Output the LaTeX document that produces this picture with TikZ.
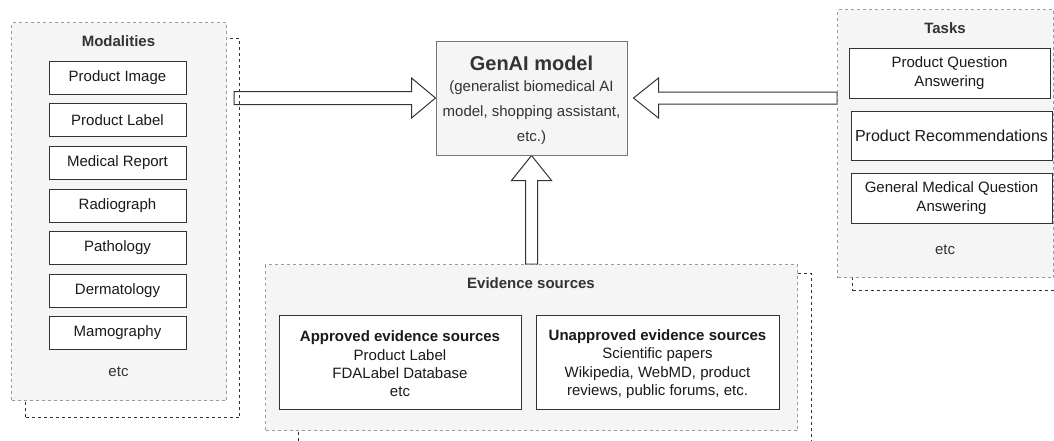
\documentclass[tikz,border=0pt]{standalone}
\usepackage{fontspec}
\setmainfont{Liberation Sans}
\usetikzlibrary{calc}
\definecolor{cfill}{HTML}{F5F5F5}
\definecolor{cdash}{HTML}{9A9A9A}
\definecolor{cshadow}{HTML}{333333}
\definecolor{cbox}{HTML}{333333}
\definecolor{ctext}{HTML}{333333}
\definecolor{citem}{HTML}{1A1A1A}
\definecolor{cgen}{HTML}{777777}
\pgfdeclarelayer{back}
\pgfsetlayers{back,main}
\begin{document}
\begin{tikzpicture}[x=1pt,y=1pt,
 container/.style={draw=cdash, fill=cfill, dash pattern=on 3pt off 3pt, line width=1pt, anchor=north west, inner sep=0pt},
 shadowbox/.style={draw=cshadow, dash pattern=on 3pt off 3pt, line width=1pt, anchor=north west, inner sep=0pt},
 item/.style={draw=cbox, fill=white, line width=1pt, inner sep=0pt, font=\fontsize{15}{18.3}\selectfont, text=citem, align=center},
 ctitle/.style={font=\fontsize{15}{18}\selectfont\bfseries, text=ctext, inner sep=0pt},
 plain/.style={font=\fontsize{15}{18}\selectfont, text=ctext, inner sep=0pt},
 barrow/.style={draw=cbox, fill=white, line width=1pt, line join=miter}
]
\useasboundingbox (0,0) rectangle (1054,-440);
\clip (0,0) rectangle (1054,-440);

% shadows
\node[shadowbox, minimum width=214pt, minimum height=379pt] (modsh) at (25,-38) {};
\node[shadowbox, minimum width=216pt, minimum height=268pt] (tasksh) at (852,-22) {};
\node[shadowbox, minimum width=513pt, minimum height=190pt] (evsh) at (298,-273) {};

% containers
\node[container, minimum width=215pt, minimum height=378pt] (mod) at (11,-22) {};
\node[container, minimum width=216pt, minimum height=268pt] (tasks) at (837,-9) {};
\node[container, minimum width=532pt, minimum height=166pt] (ev) at (265,-264) {};

% Modalities
\node[ctitle] (modt) at (118.5,-41) {Modalities};
\node[item, minimum width=137pt, minimum height=33pt] (m1) at (117.5,-77.5) {Product Image};
\node[item, minimum width=137pt, minimum height=33pt] (m2) at (117.5,-120) {Product Label};
\node[item, minimum width=137pt, minimum height=33pt] (m3) at (117.5,-162.5) {Medical Report};
\node[item, minimum width=137pt, minimum height=33pt] (m4) at (117.5,-205.5) {Radiograph};
\node[item, minimum width=137pt, minimum height=33pt] (m5) at (117.5,-247.5) {Pathology};
\node[item, minimum width=137pt, minimum height=33pt] (m6) at (117.5,-290.5) {Dermatology};
\node[item, minimum width=137pt, minimum height=33pt] (m7) at (117.5,-332.5) {Mamography};
\node[plain] (metc) at (118.5,-372) {etc};

% Tasks
\node[ctitle] (taskt) at (945,-28) {Tasks};
\node[item, minimum width=201pt, minimum height=50pt] (t1) at (949.5,-73) {Product Question\\Answering};
\node[item, minimum width=201pt, minimum height=49pt, font=\fontsize{16}{18.3}\selectfont] (t2) at (951.5,-135.5) {Product Recommendations};
\node[item, minimum width=201pt, minimum height=50pt] (t3) at (951.5,-198) {General Medical Question\\Answering};
\node[plain] (tetc) at (945,-250) {etc};

% GenAI
\node[draw=cgen, fill=cfill, line width=1pt, minimum width=191pt, minimum height=114pt, inner sep=0pt] (gen) at (531.5,-98) {};
\node[font=\fontsize{20}{24}\selectfont\bfseries, text=ctext, inner sep=0pt] (gent) at (531.5,-63) {GenAI model};
\node[font=\fontsize{15}{25}\selectfont, text=ctext, inner sep=0pt, align=center] (gens) at (531.5,-113) {(generalist biomedical AI\\model, shopping assistant,\\etc.)};

% Evidence
\node[ctitle] (evt) at (531,-283) {Evidence sources};
\node[item, minimum width=242pt, minimum height=94pt] (e1) at (400,-362) {};
\node[item, draw=none, fill=none] (e1t) at (400,-364) {\textbf{Approved evidence sources}\\Product Label\\FDALabel Database\\etc};
\node[item, minimum width=243pt, minimum height=94pt] (e2) at (657.5,-362) {};
\node[item, draw=none, fill=none] (e2t) at (657.5,-364) {\textbf{Unapproved evidence sources}\\Scientific papers\\Wikipedia, WebMD, product\\reviews, public forums, etc.};

% arrows
\coordinate (lt) at ($(mod.east |- gen.west)+(7,0)$);
\coordinate (rtip) at ($(gen.east)+(6,0)$);
\coordinate (rtail) at (tasks.west |- gen.east);
\coordinate (utail) at (gen.south |- ev.north);
\begin{pgfonlayer}{back}
\fill[white] (0,0) rectangle (1054,-440);
\draw[barrow] ($(lt)+(0,6.5)$) -- ($(gen.west)+(-24,6.5)$) -- ($(gen.west)+(-24,20)$) -- (gen.west) -- ($(gen.west)+(-24,-20)$) -- ($(gen.west)+(-24,-6.5)$) -- ($(lt)+(0,-6.5)$) -- cycle;
\draw[barrow] ($(rtail)+(0,6)$) -- ($(rtip)+(25,6)$) -- ($(rtip)+(25,20)$) -- (rtip) -- ($(rtip)+(25,-20)$) -- ($(rtip)+(25,-6)$) -- ($(rtail)+(0,-6)$) -- cycle;
\draw[barrow] ($(utail)+(-6,0)$) -- ($(gen.south)+(-6,-25)$) -- ($(gen.south)+(-20,-25)$) -- (gen.south) -- ($(gen.south)+(20,-25)$) -- ($(gen.south)+(6,-25)$) -- ($(utail)+(6,0)$) -- cycle;
\end{pgfonlayer}
\end{tikzpicture}
\end{document}
